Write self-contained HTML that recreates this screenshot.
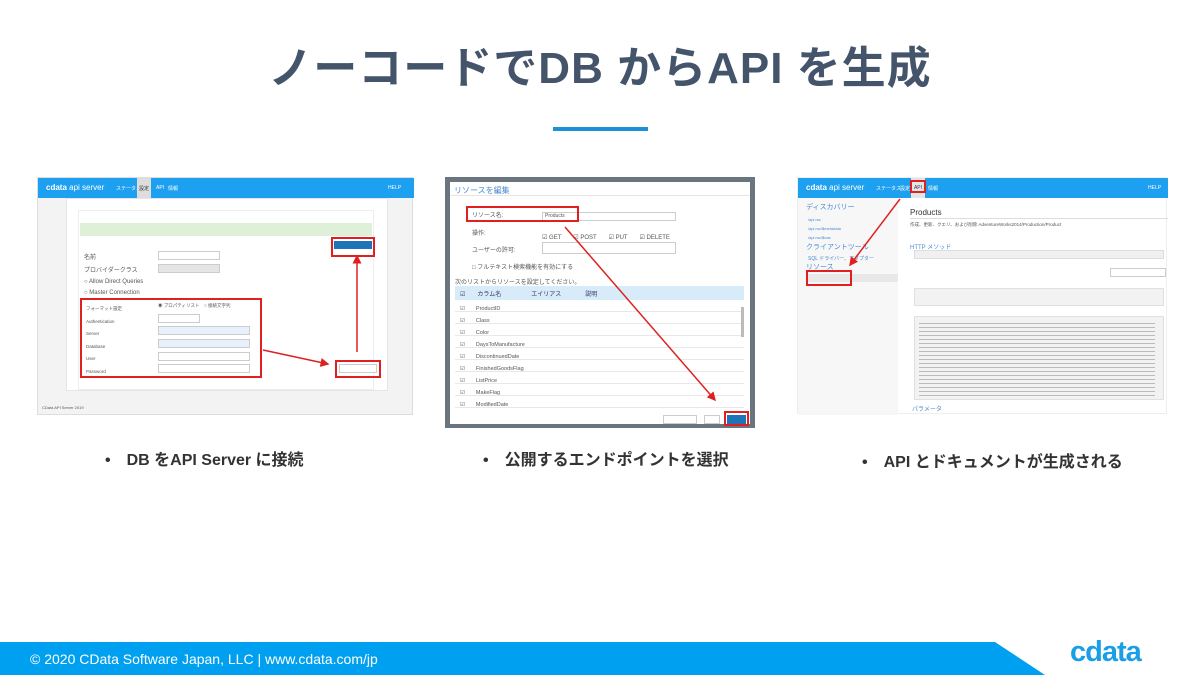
<!DOCTYPE html>
<html><head><meta charset="utf-8"><style>
*{margin:0;padding:0;box-sizing:border-box}
body{width:1200px;height:675px;position:relative;background:#fff;font-family:"Liberation Sans","Noto Sans CJK JP",sans-serif;overflow:hidden}
.a{position:absolute}
.t{font-size:6px;color:#555;position:absolute;white-space:nowrap}
.in{position:absolute;border:1px solid #ccc;background:#fff;height:9px}
.rb{position:absolute;border:2px solid #e02020}
.hd{position:absolute;background:#1ea0f0;color:#fff;font-size:5px}
.hd span{white-space:nowrap}
</style></head><body>
<div class="a" style="left:0;top:32px;width:1200px;text-align:center;font-size:44px;font-weight:bold;color:#44546a;letter-spacing:1px">ノーコードでDB からAPI を生成</div>
<div class="a" style="left:553px;top:127px;width:95px;height:4px;background:#1e90d6"></div>

<!-- screenshot 1 -->
<div class="a" style="left:37px;top:177px;width:376px;height:238px;background:#f3f3f3;border:1px solid #ddd">
 <div class="hd" style="left:0;top:0;width:376px;height:20px"><span class="a" style="left:8px;top:5px;font-size:8px;font-weight:bold">cdata <span style="font-weight:normal">api server</span></span><span class="a" style="left:78px;top:7px">ステータス</span><span class="a" style="left:99px;top:0;width:14px;height:20px;background:#ddd;color:#333;text-align:center;padding-top:7px">設定</span><span class="a" style="left:118px;top:7px">API</span><span class="a" style="left:130px;top:7px">情報</span><span class="a" style="left:350px;top:7px">HELP</span></div>
 <div class="a" style="left:28px;top:20px;width:322px;height:193px;background:#fff;border:1px solid #e5e5e5"></div>
 <div class="a" style="left:40px;top:32px;width:296px;height:180px;background:#fff;border:1px solid #eee"></div>
 <div class="a" style="left:42px;top:45px;width:292px;height:13px;background:#dff0d8"></div>
 <div class="a" style="left:296px;top:63px;width:38px;height:8px;background:#1f73b7"></div>
 <div class="rb" style="left:293px;top:59px;width:44px;height:20px"></div>
 <div class="in" style="left:120px;top:73px;width:62px"></div>
 <div class="in" style="left:120px;top:86px;width:62px;background:#e5e5e5"></div>
 <div class="t" style="left:46px;top:74px">名前</div><div class="t" style="left:46px;top:87px">プロバイダークラス</div>
 <div class="t" style="left:46px;top:101px">○ Allow Direct Queries</div><div class="t" style="left:46px;top:112px">○ Master Connection</div>
 <div class="rb" style="left:42px;top:120px;width:182px;height:80px"></div>
 <div class="t" style="left:48px;top:125px;font-size:4.5px;line-height:12.5px">フォーマット設定<br>Authentication<br>Server<br>Database<br>User<br>Password</div>
 <div class="t" style="left:120px;top:125px;font-size:4.5px">◉ プロパティリスト　○ 接続文字列</div>
 <div class="in" style="left:120px;top:136px;width:42px"></div>
 <div class="in" style="left:120px;top:148px;width:92px;background:#e8f0fe"></div>
 <div class="in" style="left:120px;top:161px;width:92px;background:#e8f0fe"></div>
 <div class="in" style="left:120px;top:174px;width:92px"></div>
 <div class="in" style="left:120px;top:186px;width:92px"></div>
 <div class="a" style="left:301px;top:186px;width:38px;height:9px;border:1px solid #ccc;background:#fff"></div>
 <div class="rb" style="left:297px;top:182px;width:46px;height:18px"></div>
 <div class="t" style="left:4px;top:227px;font-size:4px">CData API Server 2019</div>
</div>
<svg class="a" style="left:0;top:0" width="1200" height="675">
 <defs><marker id="ar" markerWidth="6" markerHeight="6" refX="5" refY="3" orient="auto"><path d="M0,0L6,3L0,6z" fill="#e02020"/></marker></defs>
 <line x1="263" y1="350" x2="328" y2="364" stroke="#e02020" stroke-width="1.5" marker-end="url(#ar)"/>
 <line x1="357" y1="352" x2="357" y2="256" stroke="#e02020" stroke-width="1.5" marker-end="url(#ar)"/>
</svg>

<!-- screenshot 2 -->
<div class="a" style="left:445px;top:177px;width:310px;height:251px;background:#6a7580">
 <div class="a" style="left:5px;top:5px;width:300px;height:242px;background:#fff">
  <div class="a" style="left:4px;top:3px;font-size:8px;color:#4a8ad0">リソースを編集</div>
  <div class="a" style="left:0;top:13px;width:300px;height:1px;background:#e5e5e5"></div>
  <div class="in" style="left:92px;top:30px;width:134px"></div>
  <div class="rb" style="left:16px;top:24px;width:113px;height:16px"></div>
  <div class="t" style="left:22px;top:28px">リソース名:</div><div class="t" style="left:95px;top:31px;font-size:5px">Products</div>
  <div class="t" style="left:22px;top:46px">操作:</div><div class="t" style="left:92px;top:50px">☑ GET　　☑ POST　　☑ PUT　　☑ DELETE</div>
  <div class="t" style="left:22px;top:63px">ユーザーの許可:</div><div class="in" style="left:92px;top:60px;width:134px;height:12px"></div>
  <div class="t" style="left:22px;top:80px">□ フルテキスト検索機能を有効にする</div>
  <div class="t" style="left:5px;top:95px">次のリストからリソースを設定してください。</div>
  <div class="a" style="left:5px;top:104px;width:289px;height:14px;background:#d8ebf8"></div>
  <div class="t" style="left:10px;top:107px;color:#336">☑　　カラム名　　　　　エイリアス　　　　説明</div>
  <div class="a" style="left:5px;top:118px;width:289px;height:110px;background:repeating-linear-gradient(#fff 0,#fff 11px,#e8e8e8 11px,#e8e8e8 12px)"></div>
  <div class="t" style="left:10px;top:121px;line-height:12px;font-size:5.5px">☑　　ProductID<br>☑　　Class<br>☑　　Color<br>☑　　DaysToManufacture<br>☑　　DiscontinuedDate<br>☑　　FinishedGoodsFlag<br>☑　　ListPrice<br>☑　　MakeFlag<br>☑　　ModifiedDate</div>
  <div class="a" style="left:291px;top:125px;width:3px;height:30px;background:#bbb"></div>
  <div class="a" style="left:213px;top:233px;width:34px;height:9px;border:1px solid #ccc"></div>
  <div class="a" style="left:254px;top:233px;width:16px;height:9px;border:1px solid #ccc"></div>
  <div class="a" style="left:277px;top:233px;width:19px;height:9px;background:#1f73b7"></div>
  <div class="rb" style="left:274px;top:229px;width:25px;height:15px"></div>
 </div>
</div>
<svg class="a" style="left:0;top:0" width="1200" height="675">
 <defs><marker id="ar2" markerWidth="6" markerHeight="6" refX="5" refY="3" orient="auto"><path d="M0,0L6,3L0,6z" fill="#e02020"/></marker></defs>
 <line x1="565" y1="227" x2="715" y2="400" stroke="#e02020" stroke-width="1.5" marker-end="url(#ar2)"/>
</svg>

<!-- screenshot 3 -->
<div class="a" style="left:797px;top:177px;width:370px;height:237px;background:#fff;border:1px solid #eee">
 <div class="hd" style="left:0;top:0;width:370px;height:20px"><span class="a" style="left:8px;top:5px;font-size:8px;font-weight:bold">cdata <span style="font-weight:normal">api server</span></span><span class="a" style="left:78px;top:7px">ステータス</span><span class="a" style="left:102px;top:7px">設定</span><span class="a" style="left:113px;top:0;width:14px;height:20px;background:#e5e5e5;color:#333;text-align:center;padding-top:7px">API</span><span class="a" style="left:130px;top:7px">情報</span><span class="a" style="left:350px;top:7px">HELP</span></div>
 <div class="rb" style="left:112px;top:2px;width:16px;height:13px"></div>
 <div class="a" style="left:0;top:20px;width:100px;height:217px;background:#f7f7f7"></div>
 <div class="t" style="left:8px;top:24px;color:#4a8ad0;font-size:7px">ディスカバリー</div>
 <div class="t" style="left:10px;top:37px;color:#4a8ad0;font-size:4px;line-height:9px">/api.rsc<br>/api.rsc/$metadata<br>/api.rsc/$oas</div>
 <div class="t" style="left:8px;top:64px;color:#4a8ad0;font-size:7px">クライアントツール</div>
 <div class="t" style="left:10px;top:77px;color:#4a8ad0;font-size:5px">SQL ドライバー、アダプター</div>
 <div class="t" style="left:8px;top:84px;color:#4a8ad0;font-size:7px">リソース</div>
 <div class="a" style="left:8px;top:96px;width:92px;height:8px;background:#e8e8e8"></div>
 <div class="rb" style="left:8px;top:92px;width:46px;height:16px"></div>
 <div class="t" style="left:112px;top:30px;font-size:8px;color:#333">Products</div>
 <div class="a" style="left:112px;top:40px;width:258px;height:1px;background:#ddd"></div>
 <div class="t" style="left:112px;top:44px;font-size:4.5px">作成、更新、クエリ、および削除 AdventureWorks2014/Production/Product</div>
 <div class="t" style="left:112px;top:64px;color:#4a8ad0;font-size:6px">HTTP メソッド</div>
 <div class="a" style="left:116px;top:72px;width:250px;height:9px;background:#f0f0f0;border:1px solid #ddd"></div>
 <div class="a" style="left:312px;top:90px;width:56px;height:9px;border:1px solid #ccc"></div>
 <div class="a" style="left:116px;top:110px;width:250px;height:18px;background:#f2f2f2;border:1px solid #e0e0e0"></div>
 <div class="a" style="left:116px;top:138px;width:250px;height:84px;background:#f2f2f2;border:1px solid #e0e0e0;background-image:repeating-linear-gradient(#f2f2f2 0,#f2f2f2 3px,#bbb 3px,#bbb 4px);background-size:236px 100%;background-repeat:no-repeat;background-position:4px 3px"></div>
 <div class="t" style="left:114px;top:226px;color:#4a8ad0;font-size:6px">パラメータ</div>
</div>
<svg class="a" style="left:0;top:0" width="1200" height="675">
 <defs><marker id="ar3" markerWidth="6" markerHeight="6" refX="5" refY="3" orient="auto"><path d="M0,0L6,3L0,6z" fill="#e02020"/></marker></defs>
 <line x1="900" y1="199" x2="850" y2="265" stroke="#e02020" stroke-width="1.5" marker-end="url(#ar3)"/>
</svg>

<div class="a" style="left:105px;top:446px;font-size:16px;font-weight:bold;color:#333">•　DB をAPI Server に接続</div>
<div class="a" style="left:483px;top:446px;font-size:16px;font-weight:bold;color:#333">•　公開するエンドポイントを選択</div>
<div class="a" style="left:862px;top:448px;font-size:16px;font-weight:bold;color:#333">•　API とドキュメントが生成される</div>

<svg class="a" style="left:0;top:642px" width="1200" height="33"><polygon points="0,0 995,0 1045,33 0,33" fill="#00a0f0"/></svg>
<div class="a" style="left:30px;top:651px;font-size:14px;color:#fff">© 2020 CData Software Japan, LLC |  www.cdata.com/jp</div>
<div class="a" style="left:1070px;top:636px;font-size:29px;font-weight:bold;color:#1a9ee8;letter-spacing:-1px">cdata</div>
</body></html>
